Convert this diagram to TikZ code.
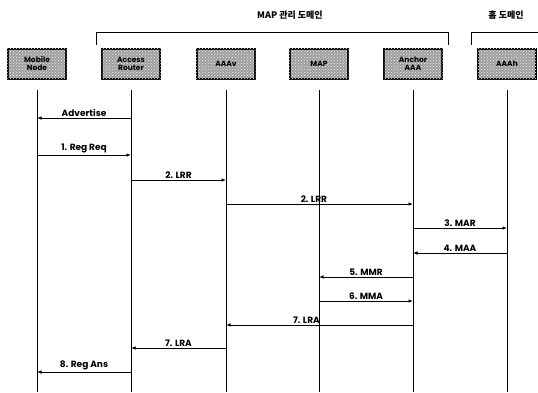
\documentclass[tikz,border=0pt]{standalone}
\usepackage{fontspec}
\setmainfont{Poppins}
\newfontfamily\krfont{Noto Sans CJK KR}
\usetikzlibrary{arrows.meta,positioning,calc,patterns}

\begin{document}
\begin{tikzpicture}[
    x=1pt, y=-1pt,
    entity/.style={draw=black, line width=1.1pt, fill=gray!75, minimum width=58pt, minimum height=30pt,
        inner sep=1pt, align=center, font=\bfseries\fontsize{7.5}{8}\selectfont},
    entity_dots/.style={pattern=crosshatch dots, pattern color=white!85!gray},
    lifeline/.style={line width=0.8pt},
    msg/.style={-{Latex[length=4.5pt,width=3.5pt]}, line width=0.8pt},
    msg_label/.style={above, inner sep=1.5pt, font=\bfseries\fontsize{9}{10}\selectfont},
    bracket/.style={line width=0.9pt},
    domain_label/.style={font=\krfont\bfseries\fontsize{9}{10}\selectfont}
]
    \useasboundingbox (0,0) rectangle (538,392);

    % --- Domains ---
    \node[domain_label] (mapdom) at (290,15) {MAP 관리 도메인};
    \node[domain_label] (homedom) at (506,15) {홈 도메인};
    \draw[bracket] (96,45) |- (448,32) -- (448,45);
    \draw[bracket] (471,45) |- (538,32);

    % --- Entities ---
    \node[entity] (mn) at (37,64) {};
    \node[entity] (ar) at (131,64) {};
    \node[entity] (aaav) at (226,64) {};
    \node[entity] (map) at (319,64) {};
    \node[entity] (anchor) at (413,64) {};
    \node[entity] (aaah) at (507,64) {};
    % dithered shading and labels
    \fill[entity_dots] (mn.south west) rectangle (mn.north east);
    \fill[entity_dots] (ar.south west) rectangle (ar.north east);
    \fill[entity_dots] (aaav.south west) rectangle (aaav.north east);
    \fill[entity_dots] (map.south west) rectangle (map.north east);
    \fill[entity_dots] (anchor.south west) rectangle (anchor.north east);
    \fill[entity_dots] (aaah.south west) rectangle (aaah.north east);
    \node[entity, draw=none, fill=none] at (mn) {Mobile\\Node};
    \node[entity, draw=none, fill=none] at (ar) {Access\\Router};
    \node[entity, draw=none, fill=none] at (aaav) {AAAv};
    \node[entity, draw=none, fill=none] at (map) {MAP};
    \node[entity, draw=none, fill=none] at (anchor) {Anchor\\AAA};
    \node[entity, draw=none, fill=none] at (aaah) {AAAh};

    % --- Lifelines ---
    \coordinate (top) at (0,90);
    \coordinate (bot) at (0,392);
    \draw[lifeline] (mn |- top) -- (mn |- bot);
    \draw[lifeline] (ar |- top) -- (ar |- bot);
    \draw[lifeline] (aaav |- top) -- (aaav |- bot);
    \draw[lifeline] (map |- top) -- (map |- bot);
    \draw[lifeline] (anchor |- top) -- (anchor |- bot);
    \draw[lifeline] (aaah |- top) -- (aaah |- bot);

    % --- Message rows ---
    \coordinate (t0) at (0,118);
    \coordinate (t1) at (0,155);
    \coordinate (t2) at (0,180);
    \coordinate (t3) at (0,204);
    \coordinate (t4) at (0,228);
    \coordinate (t5) at (0,253);
    \coordinate (t6) at (0,277);
    \coordinate (t7) at (0,301);
    \coordinate (t8) at (0,325);
    \coordinate (t9) at (0,348);
    \coordinate (t10) at (0,372);

    % --- Messages ---
    \draw[msg] (ar |- t0) -- (mn |- t0) node[msg_label, midway] {Advertise};
    \draw[msg] (mn |- t1) -- (ar |- t1) node[msg_label, midway] {1. Reg Req};
    \draw[msg] (ar |- t2) -- (aaav |- t2) node[msg_label, midway] {2. LRR};
    \draw[msg] (aaav |- t3) -- (anchor |- t3) node[msg_label, pos=0.47] {2. LRR};
    \draw[msg] (anchor |- t4) -- (aaah |- t4) node[msg_label, midway] {3. MAR};
    \draw[msg] (aaah |- t5) -- (anchor |- t5) node[msg_label, midway] {4. MAA};
    \draw[msg] (anchor |- t6) -- (map |- t6) node[msg_label, midway] {5. MMR};
    \draw[msg] (map |- t7) -- (anchor |- t7) node[msg_label, midway] {6. MMA};
    \draw[msg] (anchor |- t8) -- (aaav |- t8) node[msg_label, pos=0.57] {7. LRA};
    \draw[msg] (aaav |- t9) -- (ar |- t9) node[msg_label, midway] {7. LRA};
    \draw[msg] (ar |- t10) -- (mn |- t10) node[msg_label, midway] {8. Reg Ans};

\end{tikzpicture}
\end{document}
